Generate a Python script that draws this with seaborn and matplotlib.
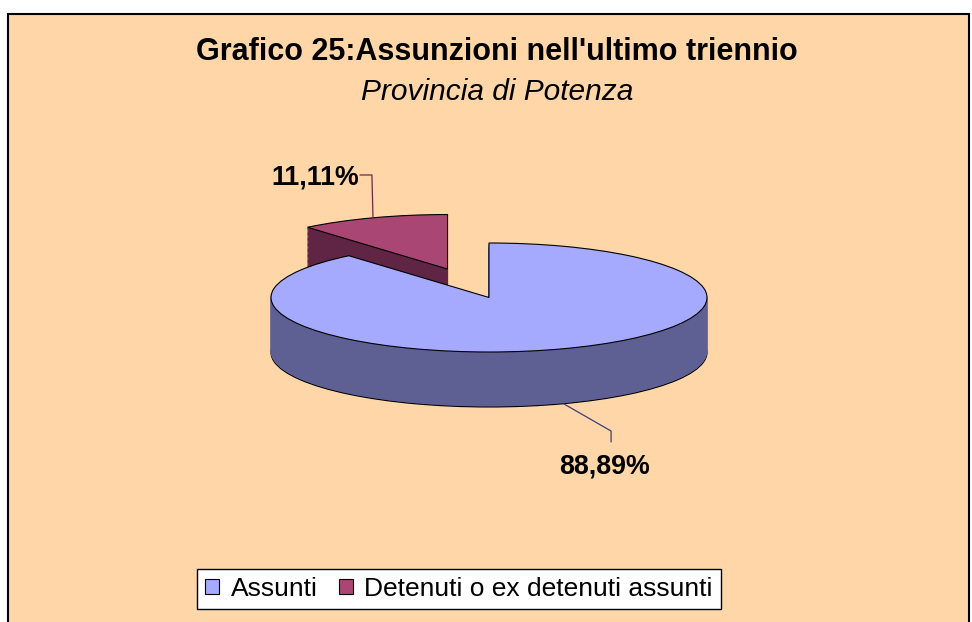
import numpy as np
import matplotlib
matplotlib.use("Agg")
import matplotlib.pyplot as plt
import seaborn as sns
from matplotlib.patches import Rectangle

# data
categories = ["Assunti", "Detenuti o ex detenuti assunti"]
values = [88.89, 11.11]
pct_labels = ["88,89%", "11,11%"]
top_colors = ["#A6AAFF", "#AA4673"]
side_colors = ["#5E6093", "#602444"]
explode = [0, 0.556]

title = "Grafico 25:Assunzioni nell'ultimo triennio"
subtitle = "Provincia di Potenza"

sns.set_theme(style="white")
plt.rcParams['font.family'] = ['Liberation Sans', 'DejaVu Sans']
plt.rcParams['text.color'] = 'black'

W, H = 972, 622
fig = plt.figure(figsize=(W / 100, H / 100), dpi=100, facecolor="white")

# chart area frame
fig.patches.append(Rectangle((8 / W, -0.05), (969 - 8) / W, 1.05 - 14 / H,
                             transform=fig.transFigure, facecolor="#FFD6A8",
                             edgecolor="black", linewidth=1.5, zorder=-5))

# pie axes: 1 unit = rx px horizontally, ry px vertically (3D tilt)
rx, ry = 218.0, 54.5
cx, cy = 489.0, 297.5
depth = 55.0 / ry
ax = fig.add_axes([0, 0, 1, 1])
ax.patch.set_alpha(0)

n_layers = 45
for k in range(n_layers + 1):
    off = -depth + depth * k / n_layers
    last = k == n_layers
    first = k == 0
    if first or last:
        wp = dict(linewidth=0.8, edgecolor="black")
    else:
        wp = dict(linewidth=0.6)
    wedges, _ = ax.pie(values, startangle=90, counterclock=False,
                       explode=explode, center=(0, off),
                       colors=top_colors if last else side_colors,
                       wedgeprops=wp)
    if not (first or last):
        for w, c in zip(wedges, side_colors):
            w.set_edgecolor(c)
    wedges[0].set_zorder(2)
    wedges[1].set_zorder(1)
    if last:
        top_wedges = wedges

ax.set_aspect("auto")
ax.set_xlim(-cx / rx, (W - cx) / rx)
ax.set_ylim(-(H - cy) / ry, cy / ry)
ax.axis("off")

# labels with leader lines
mids = []
ang = 90.0
for v in values:
    span = 360.0 * v / sum(values)
    mids.append(np.deg2rad(ang - span / 2))
    ang -= span

# big slice: leader from front rim bottom
t = mids[0]
sx, sy = np.cos(t), np.sin(t) - depth
ax.plot([sx, 0.560, 0.560], [sy, -2.450, -2.651], color="#3A3F7A", lw=0.9, zorder=5)
ax.text(0.532, -3.10, pct_labels[0], ha="center", va="center",
        fontsize=19.3, fontweight="bold", color="black", zorder=5)

# small slice: leader from exploded top arc
t = mids[1]
ex, ey = explode[1] * np.cos(t), explode[1] * np.sin(t)
sx, sy = ex + np.cos(t), ey + np.sin(t)
ax.plot([sx, sx - 0.005, -0.592], [sy, 2.248, 2.248], color="#6A2A48", lw=0.9, zorder=5)
ax.text(-0.597, 2.21, pct_labels[1], ha="right", va="center",
        fontsize=19.3, fontweight="bold", color="black", zorder=5)

# titles
fig.text(497 / W, 1 - 52 / H, title, ha="center", va="center",
         fontsize=22, fontweight="bold", color="black")
fig.text(497 / W, 1 - 92 / H, subtitle, ha="center", va="center",
         fontsize=21.5, fontstyle="italic", color="black")

leg = fig.legend(top_wedges, categories, loc="center",
                 bbox_to_anchor=(459 / W, 1 - 589 / H), ncol=2, fontsize=19,
                 frameon=True, fancybox=False, framealpha=1, edgecolor="black",
                 borderpad=0.3, handlelength=0.52, handleheight=0.52,
                 handletextpad=0.45, columnspacing=0.8, borderaxespad=0)
leg.get_frame().set_linewidth(1.0)
leg.get_frame().set_facecolor("white")
for txt in leg.get_texts():
    txt.set_color("black")

fig.savefig("out.png", dpi=100, facecolor="white")
